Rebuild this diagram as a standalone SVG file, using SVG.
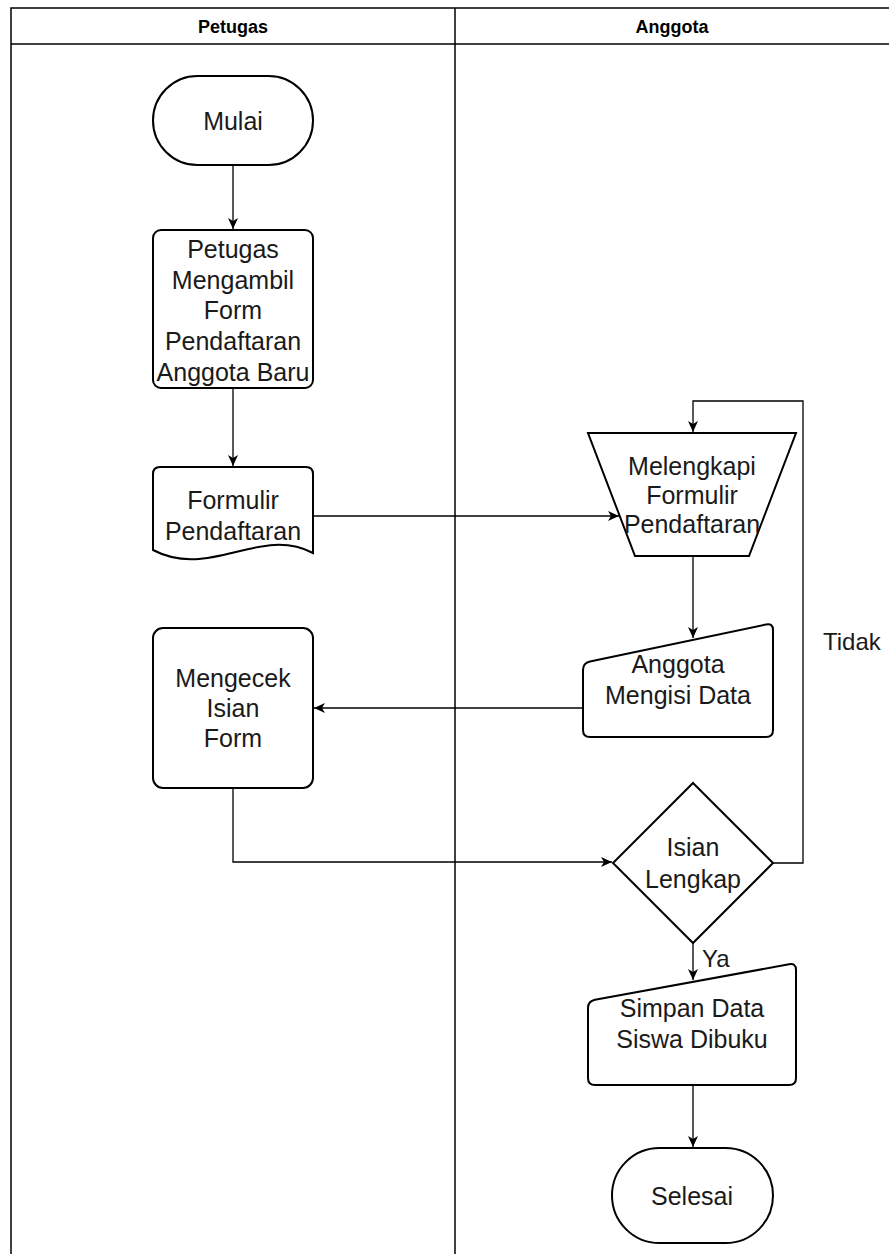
<svg xmlns="http://www.w3.org/2000/svg" width="889" height="1254" viewBox="0 0 889 1254">
<style>
.bg{fill:#ffffff}
.lane{fill:none;stroke:#000;stroke-width:1.5}
.hdr{font-family:"Liberation Sans",Arial,sans-serif;font-size:18px;font-weight:bold;fill:#000;text-anchor:middle}
.shape{fill:#fff;stroke:#000;stroke-width:2}
.lbl{font-family:"Liberation Sans",Arial,sans-serif;font-size:25px;fill:#1a1a1a;text-anchor:middle}
.elbl{font-family:"Liberation Sans",Arial,sans-serif;font-size:24px;fill:#1a1a1a}
.edge{fill:none;stroke:#000;stroke-width:1.3}
</style>
<defs>
<marker id="arr" markerUnits="userSpaceOnUse" markerWidth="14" markerHeight="12" refX="11" refY="5" orient="auto">
<path d="M0,0 L11,5 L0,10 L3,5 Z" fill="#000"/>
</marker>
</defs>
<rect class="bg" x="0" y="0" width="889" height="1254"/>
<g id="lanes">
<rect class="lane" x="11" y="8" width="890" height="1260"/>
<line class="lane" x1="11" y1="44" x2="889" y2="44"/>
<line class="lane" x1="455" y1="8" x2="455" y2="1254"/>
<text class="hdr" x="233" y="33">Petugas</text>
<text class="hdr" x="672" y="33">Anggota</text>
</g>
<g id="edges">
<line class="edge" x1="233" y1="165" x2="233" y2="229" marker-end="url(#arr)"/>
<line class="edge" x1="233" y1="388" x2="233" y2="466" marker-end="url(#arr)"/>
<line class="edge" x1="313" y1="516" x2="619" y2="516" marker-end="url(#arr)"/>
<line class="edge" x1="693" y1="556" x2="693" y2="638" marker-end="url(#arr)"/>
<line class="edge" x1="583" y1="708" x2="314" y2="708" marker-end="url(#arr)"/>
<polyline class="edge" points="233,788 233,862 612,862" marker-end="url(#arr)"/>
<polyline class="edge" points="773,863 803,863 803,401 693,401 693,432" marker-end="url(#arr)"/>
<line class="edge" x1="693" y1="943" x2="693" y2="980" marker-end="url(#arr)"/>
<line class="edge" x1="693" y1="1085" x2="693" y2="1147" marker-end="url(#arr)"/>
<text class="elbl" x="823" y="650">Tidak</text>
<text class="elbl" x="702" y="967">Ya</text>
</g>
<g id="mulai">
<rect class="shape" x="153" y="76" width="160" height="89" rx="44.5" ry="44.5"/>
<text class="lbl" x="233" y="130">Mulai</text>
</g>
<g id="ambil-form">
<rect class="shape" x="153" y="230" width="160" height="158" rx="8" ry="8"/>
<text class="lbl" x="233" y="258">Petugas</text>
<text class="lbl" x="233" y="289">Mengambil</text>
<text class="lbl" x="233" y="319">Form</text>
<text class="lbl" x="233" y="350">Pendaftaran</text>
<text class="lbl" x="233" y="381">Anggota Baru</text>
</g>
<g id="formulir">
<path class="shape" d="M153,550 L153,474 Q153,467 160,467 L306,467 Q313,467 313,474 L313,553 C260,525 210,580 153,550 Z"/>
<text class="lbl" x="233" y="509">Formulir</text>
<text class="lbl" x="233" y="540">Pendaftaran</text>
</g>
<g id="mengecek">
<rect class="shape" x="153" y="628" width="160" height="160" rx="10" ry="10"/>
<text class="lbl" x="233" y="687">Mengecek</text>
<text class="lbl" x="233" y="717">Isian</text>
<text class="lbl" x="233" y="747">Form</text>
</g>
<g id="melengkapi">
<polygon class="shape" points="588,433 796,433 749,556 635,556"/>
<text class="lbl" x="692" y="475">Melengkapi</text>
<text class="lbl" x="692" y="504">Formulir</text>
<text class="lbl" x="692" y="533">Pendaftaran</text>
</g>
<g id="mengisi">
<path class="shape" d="M583,670 Q583,663 590,661.5 L766,624.5 Q773,623 773,630 L773,730 Q773,737 766,737 L590,737 Q583,737 583,730 Z"/>
<text class="lbl" x="678" y="673">Anggota</text>
<text class="lbl" x="678" y="704">Mengisi Data</text>
</g>
<g id="isian-lengkap">
<polygon class="shape" points="693,783 773,863 693,943 613,863"/>
<text class="lbl" x="693" y="856">Isian</text>
<text class="lbl" x="693" y="888">Lengkap</text>
</g>
<g id="simpan">
<path class="shape" d="M588,1008 Q588,1001 595,999.7 L789,964.3 Q796,963 796,970 L796,1078 Q796,1085 789,1085 L595,1085 Q588,1085 588,1078 Z"/>
<text class="lbl" x="692" y="1017">Simpan Data</text>
<text class="lbl" x="692" y="1048">Siswa Dibuku</text>
</g>
<g id="selesai">
<rect class="shape" x="612" y="1148" width="161" height="95" rx="47.5" ry="47.5"/>
<text class="lbl" x="692" y="1205">Selesai</text>
</g>
</svg>
